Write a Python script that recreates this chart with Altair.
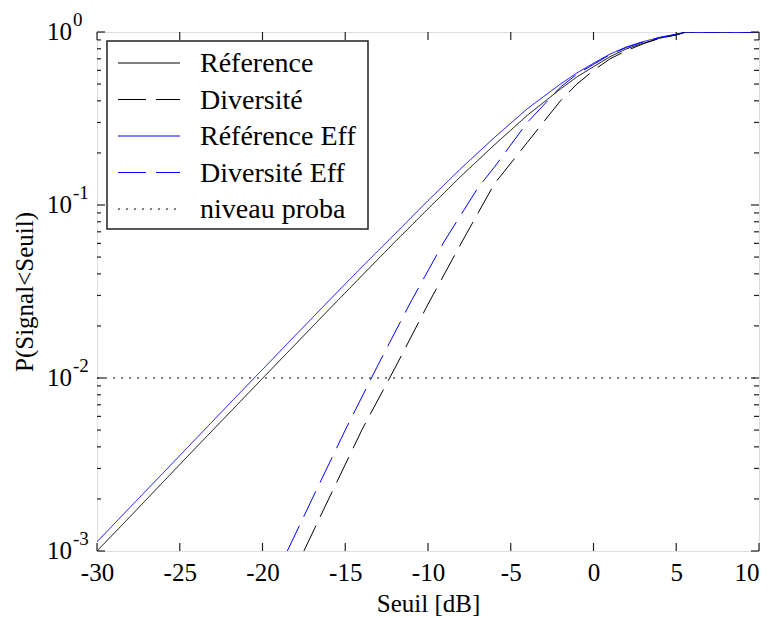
import altair as alt
import pandas as pd

# --- data ---
ref_x = [-30, -28, -26, -24, -22, -20, -18, -16, -14, -12, -10, -8, -6, -4, -2, -1, 0, 1, 2, 3, 4, 5, 5.6, 10]
ref_y = [0.001, 0.00158, 0.00251, 0.00398, 0.00629, 0.00995, 0.0157, 0.0248, 0.039, 0.0612, 0.095, 0.147, 0.222, 0.33, 0.468, 0.55, 0.63, 0.72, 0.80, 0.86, 0.92, 0.96, 1.0, 1.0]

refeff_x = [-30, -28, -26, -24, -22, -20, -18, -16, -14, -12, -10, -8, -6, -4, -2, -1, 0, 1, 2, 3, 4, 5, 5.6, 10]
refeff_y = [0.00113, 0.00179, 0.00283, 0.00448, 0.0071, 0.0112, 0.0177, 0.0279, 0.0438, 0.068, 0.106, 0.163, 0.245, 0.36, 0.50, 0.58, 0.66, 0.745, 0.82, 0.88, 0.93, 0.97, 1.0, 1.0]

div_x = [-17.5, -16, -14, -12, -10, -8, -6, -4, -2, -1, 0, 1, 2, 3, 4, 5, 5.6, 10]
div_y = [0.001, 0.002, 0.005, 0.0114, 0.0267, 0.060, 0.132, 0.23, 0.40, 0.50, 0.60, 0.70, 0.78, 0.855, 0.92, 0.965, 1.0, 1.0]

diveff_x = [-18.5, -17, -15, -13, -11, -9, -7, -6, -4, -2, -1, 0, 1, 2, 3, 4, 5, 5.6, 10]
diveff_y = [0.001, 0.002, 0.005, 0.012, 0.028, 0.062, 0.125, 0.165, 0.30, 0.48, 0.57, 0.65, 0.74, 0.815, 0.875, 0.93, 0.97, 1.0, 1.0]

niveau_x = [-30, 10]
niveau_y = [0.01, 0.01]

series_names = ["Réference", "Diversité", "Référence Eff", "Diversité Eff", "niveau proba"]
series_colors = ["#000000", "#000000", "#0000ff", "#0000ff", "#000000"]
series_dash = [[1, 0], [28, 10], [1, 0], [28, 10], [2, 6]]

x_ticks = [-30, -25, -20, -15, -10, -5, 0, 5, 10]
y_major = [0.001, 0.01, 0.1, 1]
y_minor = [m * d for d in [0.001, 0.01, 0.1] for m in range(2, 10)]
y_exponents = ["-3", "-2", "-1", "0"]

rows = []
for name, xs, ys in [
    ("Réference", ref_x, ref_y),
    ("Diversité", div_x, div_y),
    ("Référence Eff", refeff_x, refeff_y),
    ("Diversité Eff", diveff_x, diveff_y),
    ("niveau proba", niveau_x, niveau_y),
]:
    for i, (a, b) in enumerate(zip(xs, ys)):
        rows.append({"s": name, "x": a, "y": b, "o": i})
df = pd.DataFrame(rows)

W, H = 662, 519
FONT = "Liberation Serif"

xscale = alt.Scale(domain=[-30, 10], nice=False, zero=False)
yscale = alt.Scale(type="log", domain=[0.001, 1], nice=False)

lines = alt.Chart(df).mark_line(strokeWidth=1, clip=True).encode(
    x=alt.X("x:Q", scale=xscale,
            axis=alt.Axis(values=x_ticks, ticks=False, domain=False, grid=False,
                          labelFont=FONT, labelFontSize=25, labelColor="#000",
                          labelPadding=9, labelExpr="'' + datum.value",
                          labelFlush=False, labelOverlap=False, labelBound=False,
                          labelAlign={"condition": {"test": "datum.value == 10", "value": "right"},
                                      "value": "center"},
                          title="Seuil [dB]", titleFont=FONT, titleFontSize=25,
                          titleFontWeight="normal", titleColor="#000",
                          titleY=52, titleBaseline="middle")),
    y=alt.Y("y:Q", scale=yscale,
            axis=alt.Axis(labels=False, ticks=False, domain=False, grid=False,
                          title="P(Signal<Seuil)", titleFont=FONT, titleFontSize=25,
                          titleFontWeight="normal", titleColor="#000",
                          titleX=-73, titleY=H / 2, titleBaseline="middle")),
    color=alt.Color("s:N", scale=alt.Scale(domain=series_names, range=series_colors),
                    legend=None),
    strokeDash=alt.StrokeDash("s:N", scale=alt.Scale(domain=series_names, range=series_dash),
                              legend=None),
    order="o:Q",
)

xt = pd.DataFrame({"v": x_ticks})
ytM = pd.DataFrame({"v": y_major, "e": y_exponents})
ytm = pd.DataFrame({"v": y_minor})

tick_color = "#222"
xb = alt.Chart(xt).mark_rule(color=tick_color, strokeWidth=1.2).encode(
    x=alt.X("v:Q", scale=xscale), y=alt.value(H), y2=alt.value(H - 8))
xtop = alt.Chart(xt).mark_rule(color=tick_color, strokeWidth=1.2).encode(
    x=alt.X("v:Q", scale=xscale), y=alt.value(0), y2=alt.value(8))
ylM = alt.Chart(ytM).mark_rule(color=tick_color, strokeWidth=1.2).encode(
    y=alt.Y("v:Q", scale=yscale), x=alt.value(0), x2=alt.value(8))
yrM = alt.Chart(ytM).mark_rule(color=tick_color, strokeWidth=1.2).encode(
    y=alt.Y("v:Q", scale=yscale), x=alt.value(W), x2=alt.value(W - 8))
ylm = alt.Chart(ytm).mark_rule(color=tick_color, strokeWidth=1.2).encode(
    y=alt.Y("v:Q", scale=yscale), x=alt.value(0), x2=alt.value(4))
yrm = alt.Chart(ytm).mark_rule(color=tick_color, strokeWidth=1.2).encode(
    y=alt.Y("v:Q", scale=yscale), x=alt.value(W), x2=alt.value(W - 5))

ylab10 = alt.Chart(ytM).mark_text(font=FONT, fontSize=25, align="right",
                                  baseline="middle", color="#000").encode(
    y=alt.Y("v:Q", scale=yscale), x=alt.value(-25), text=alt.value("10"))
ylabexp = alt.Chart(ytM).mark_text(font=FONT, fontSize=19, align="left",
                                   baseline="middle", color="#000", dy=-12).encode(
    y=alt.Y("v:Q", scale=yscale), x=alt.value(-24), text="e:N")

# --- manual legend box (pixel placement inside the plot area) ---
one = pd.DataFrame({"a": [0]})
legend_layers = [
    alt.Chart(one).mark_rect(fill="#fff", stroke="#222", strokeWidth=1.5).encode(
        x=alt.value(10), x2=alt.value(271), y=alt.value(9), y2=alt.value(197))
]
row_y = [31, 67.5, 104, 140.5, 177]
for name, col, dash, ry in zip(series_names, series_colors, series_dash, row_y):
    legend_layers.append(
        alt.Chart(one).mark_rule(color=col, strokeWidth=1, strokeDash=dash).encode(
            x=alt.value(21), x2=alt.value(83), y=alt.value(ry)))
    legend_layers.append(
        alt.Chart(one).mark_text(font=FONT, fontSize=28, align="left",
                                 baseline="middle", color="#000").encode(
            x=alt.value(103), y=alt.value(ry + 1), text=alt.value(name)))

chart = alt.layer(lines, xb, xtop, ylM, yrM, ylm, yrm, ylab10, ylabexp,
                  *legend_layers).properties(
    width=W, height=H,
    autosize=alt.AutoSizeParams(type="none"),
    padding={"left": 89, "top": 24, "right": 5, "bottom": 70},
).configure_view(stroke="#222", strokeWidth=1.5).configure(background="#fff")

chart.save("out.html", embed_options={"renderer": "svg", "actions": False})
